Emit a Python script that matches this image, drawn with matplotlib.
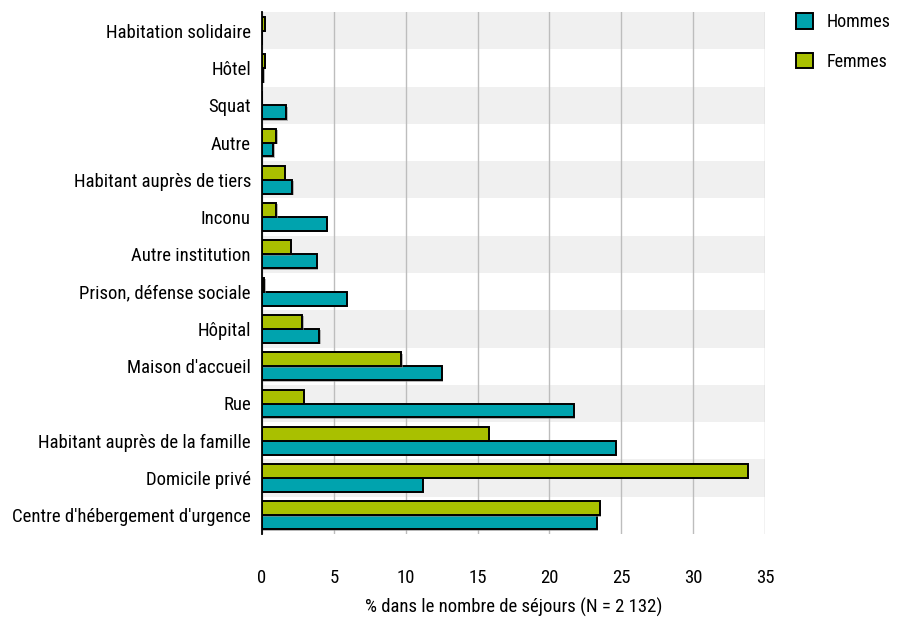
import matplotlib
matplotlib.use("Agg")
import matplotlib.pyplot as plt
from matplotlib import font_manager
from matplotlib.patches import Patch
import matplotlib.patheffects as pe
import numpy as np

# Pick a narrow sans face if one is available
names = {f.name for f in font_manager.fontManager.ttflist}
family = "DejaVu Sans"
for cand in ["Liberation Sans Narrow", "DejaVu Sans Condensed", "Roboto Condensed", "Open Sans Condensed"]:
    if cand in names:
        family = cand
        break
plt.rcParams["font.family"] = [family, "DejaVu Sans"]

categories = [
    "Centre d'hébergement d'urgence",
    "Domicile privé",
    "Habitant auprès de la famille",
    "Rue",
    "Maison d'accueil",
    "Hôpital",
    "Prison, défense sociale",
    "Autre institution",
    "Inconu",
    "Habitant auprès de tiers",
    "Autre",
    "Squat",
    "Hôtel",
    "Habitation solidaire",
]
hommes = [23.3, 11.2, 24.6, 21.7, 12.5, 4.0, 5.9, 3.8, 4.5, 2.1, 0.8, 1.7, 0.1, 0.0]
femmes = [23.5, 33.8, 15.8, 2.9, 9.7, 2.8, 0.15, 2.0, 1.0, 1.6, 1.0, 0.0, 0.2, 0.2]
xticks = [0, 5, 10, 15, 20, 25, 30, 35]
xlabel = "% dans le nombre de séjours (N = 2 132)"
series_names = ["Hommes", "Femmes"]

c_hommes = "#00A3AE"
c_femmes = "#A9C000"
fs = 13.5

fig = plt.figure(figsize=(8.99, 6.21), dpi=100)
ax = fig.add_axes([262 / 899, 1 - 534 / 621, (765 - 262) / 899, (534 - 12) / 621])

y = np.arange(len(categories))
h = 0.375

# alternating background bands
for i in y:
    if i % 2 == 1:
        ax.axhspan(i - 0.5, i + 0.5, color="#F0F0F0", zorder=0, lw=0)

shadow = [pe.SimplePatchShadow(offset=(1, -1), shadow_rgbFace="#888888", alpha=0.6), pe.Normal()]
ax.barh(y - h / 2, hommes, height=h, color=c_hommes, edgecolor="black", linewidth=1.4,
        zorder=3, path_effects=shadow)
ax.barh(y + h / 2, femmes, height=h, color=c_femmes, edgecolor="black", linewidth=1.4,
        zorder=3, path_effects=shadow)

ax.set_xlim(0, 35)
ax.set_ylim(-0.5, len(categories) - 0.5)
ax.set_xticks(xticks)
ax.set_xticklabels([str(t) for t in xticks], fontsize=fs)
ax.set_yticks(y)
ax.set_yticklabels(categories, fontsize=fs)
ax.tick_params(axis="x", length=0, pad=25)
ax.tick_params(axis="y", length=0, pad=8)
ax.xaxis.grid(True, color="#BDBDBD", linewidth=1.0, zorder=1)
ax.set_axisbelow(True)
for s in ["top", "right", "bottom"]:
    ax.spines[s].set_visible(False)
ax.spines["left"].set_linewidth(1.3)
ax.spines["left"].set_zorder(4)
ax.set_xlabel(xlabel, fontsize=fs, labelpad=8)

handles = [Patch(facecolor=c_hommes, edgecolor="black", linewidth=1.4),
           Patch(facecolor=c_femmes, edgecolor="black", linewidth=1.4)]
fig.legend(handles, series_names, loc="upper left", bbox_to_anchor=(796 / 899, 1 - 13 / 621),
           frameon=False, fontsize=13, handlelength=0.95, handleheight=0.95,
           handletextpad=0.75, labelspacing=1.2, borderaxespad=0, borderpad=0)

fig.savefig("out.png", dpi=100)
